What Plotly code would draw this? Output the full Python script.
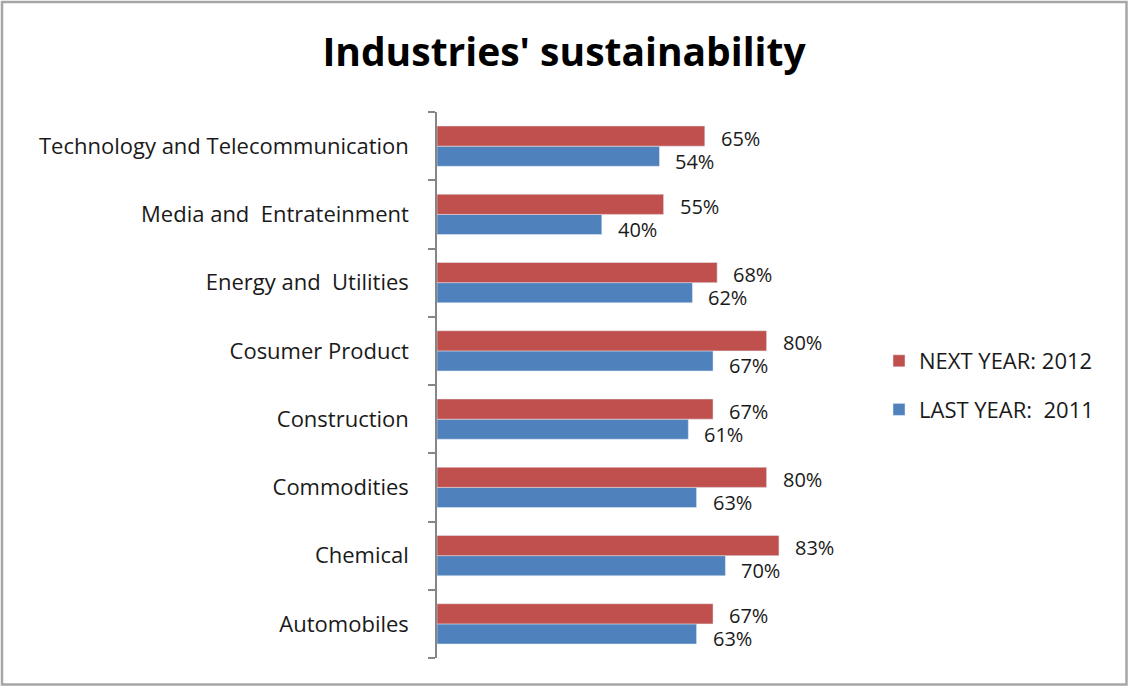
import plotly.graph_objects as go

categories = ["Technology and Telecommunication", "Media and  Entrateinment", "Energy and  Utilities",
              "Cosumer Product", "Construction", "Commodities", "Chemical", "Automobiles"]
next_year = [65, 55, 68, 80, 67, 80, 83, 67]
last_year = [54, 40, 62, 67, 61, 63, 70, 63]
series_names = ["NEXT YEAR: 2012", "LAST YEAR:  2011"]

W, H = 1128, 686
ML, MR, MT, MB = 437, 279, 112, 28
PW, PH = W - ML - MR, H - MT - MB

def px_x(p):
    return (p - ML) / PW

def px_y(p):
    return (H - MB - p) / PH

FONT = "Open Sans"
RED = "#C0504D"
BLUE = "#4F81BD"
TXT = "#1a1a1a"

fig = go.Figure()
fig.add_trace(go.Bar(y=categories, x=last_year, orientation="h", name=series_names[1],
                     marker=dict(color=BLUE), legendgroup="b", legendrank=2))
fig.add_trace(go.Bar(y=categories, x=next_year, orientation="h", name=series_names[0],
                     marker=dict(color=RED), legendgroup="a", legendrank=1))

annotations = []
for c, v in zip(categories, next_year):
    annotations.append(dict(x=v, y=c, xref="x", yref="y", text=f"{v}%", showarrow=False,
                            xanchor="left", yanchor="middle", xshift=14, yshift=8,
                            font=dict(family=FONT, size=20, color=TXT)))
for c, v in zip(categories, last_year):
    annotations.append(dict(x=v, y=c, xref="x", yref="y", text=f"{v}%", showarrow=False,
                            xanchor="left", yanchor="middle", xshift=14, yshift=-15,
                            font=dict(family=FONT, size=20, color=TXT)))

fig.update_layout(
    width=W, height=H,
    margin=dict(l=ML, r=MR, t=MT, b=MB),
    paper_bgcolor="white", plot_bgcolor="white",
    barmode="group", bargap=0.41, bargroupgap=0,
    title=dict(text="<b>Industries' sustainability</b>", x=0.5, xanchor="center",
               y=1 - 52 / H, yanchor="middle",
               font=dict(family=FONT, size=39, color="black")),
    xaxis=dict(range=[0, 100], showgrid=False, showline=False, showticklabels=False,
               zeroline=False, ticks=""),
    yaxis=dict(categoryorder="array", categoryarray=list(reversed(categories)),
               showline=True, linecolor="#868686", linewidth=1.5,
               ticks="outside", tickson="boundaries", ticklen=7, tickcolor="#868686",
               tickwidth=1.5, showgrid=False, ticklabelstandoff=22,
               tickfont=dict(family=FONT, size=22, color=TXT)),
    legend=dict(x=px_x(879), xanchor="left", y=px_y(385.5), yanchor="middle",
                traceorder="grouped", tracegroupgap=17,
                font=dict(family=FONT, size=22, color=TXT),
                bgcolor="rgba(0,0,0,0)"),
    annotations=annotations,
    shapes=[dict(type="rect", xref="paper", yref="paper",
                 x0=px_x(2), x1=px_x(1126.5), y0=px_y(2), y1=px_y(684.5),
                 line=dict(color="#A6A6A6", width=2.5), layer="below")],
    showlegend=True,
)

fig.write_html("out.html")
